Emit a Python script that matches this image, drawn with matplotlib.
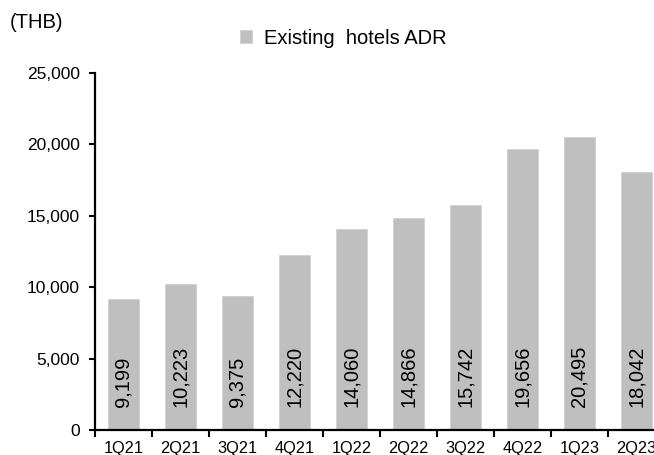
import matplotlib
matplotlib.use("Agg")
import matplotlib.pyplot as plt

quarters = ["1Q21", "2Q21", "3Q21", "4Q21", "1Q22", "2Q22", "3Q22", "4Q22", "1Q23", "2Q23"]
adr = [9199, 10223, 9375, 12220, 14060, 14866, 15742, 19656, 20495, 18042]
y_ticks = [0, 5000, 10000, 15000, 20000, 25000]

plt.rcParams["font.family"] = ["Liberation Sans", "DejaVu Sans"]

fig = plt.figure(figsize=(6.54, 4.55), dpi=100)
ax = fig.add_axes([95 / 654, 1 - 430 / 455, 570 / 654, 357 / 455])

x = list(range(len(quarters)))
bar_color = "#BFBFBF"
bars = ax.bar(x, adr, width=0.55, color=bar_color, edgecolor="#D0D0D0", linewidth=0.6,
              label="Existing  hotels ADR", zorder=2)

for xi, v in zip(x, adr):
    ax.annotate(f"{v:,}", xy=(xi, 0), xytext=(0, 16.5), textcoords="offset points",
                rotation=90, ha="center", va="bottom", fontsize=14.5, color="black", zorder=3)

ax.set_xlim(-0.5, len(quarters) - 0.5)
ax.set_ylim(0, 25000)
ax.set_yticks(y_ticks)
ax.set_yticklabels([f"{t:,}" for t in y_ticks], fontsize=12.5)

# category boundaries carry the tick marks, labels sit at bar centres
ax.set_xticks([i - 0.5 for i in range(len(quarters) + 1)])
ax.set_xticklabels([])
ax.set_xticks(x, minor=True)
ax.set_xticklabels(quarters, minor=True, fontsize=11.8)
ax.tick_params(axis="x", which="minor", length=0, pad=8)
ax.tick_params(axis="x", which="major", length=5, width=1.5, direction="out")
ax.tick_params(axis="y", length=4, width=1.5, direction="out", pad=7)

for side in ["top", "right"]:
    ax.spines[side].set_visible(False)
for side in ["left", "bottom"]:
    ax.spines[side].set_linewidth(1.6)
    ax.spines[side].set_color("black")

fig.text(10 / 654, 1 - 22 / 455, "(THB)", fontsize=14.5, ha="left", va="center")

leg = fig.legend(handles=[bars], labels=["Existing  hotels ADR"], loc="center left",
                 bbox_to_anchor=(232 / 654, 1 - 38 / 455), frameon=False, fontsize=14.5,
                 handlelength=0.6, handleheight=0.6, handletextpad=0.6, borderaxespad=0)

fig.savefig("out.png", dpi=100)
